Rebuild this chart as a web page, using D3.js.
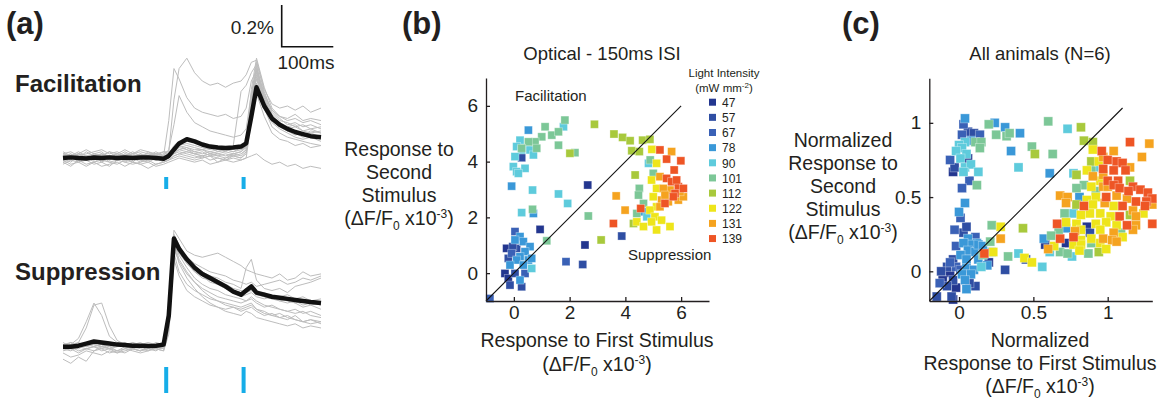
<!DOCTYPE html>
<html>
<head>
<meta charset="utf-8">
<script src="https://cdn.jsdelivr.net/npm/d3@7"></script>
<style>
  body { margin: 0; background: #fff; }
  text { font-family: "Liberation Sans", Arial, sans-serif; fill: #231f20; }
</style>
</head>
<body>
<script>
// ---- data ----
const intensities = [47, 57, 67, 78, 90, 101, 112, 122, 131, 139];
const intensityColors = ['#23368f', '#2f4ea3', '#3a61b6', '#3a98d8', '#5ecbdc',
                         '#7cc797', '#a8c93c', '#eee51a', '#f5a31f', '#ee5525'];

// time of each sample (ms), stimuli at 200 and 350 ms
const traceTimes = [0,15,30,45,60,75,90,105,120,135,150,165,180,195,205,215,225,240,
                    255,270,285,300,315,330,345,355,365,375,390,405,420,435,450,465,480,500];
const stimTimes = [200, 350];

// dF/F (%) facilitation example
const facMean = [0.00,0.003,0.00,-0.002,0.002,0.00,0.003,0.00,0.002,0.00,0.002,0.003,0.00,-0.004,
  0.01,0.04,0.07,0.09, 0.08,0.065,0.055,0.05,0.048,0.05,0.055, 0.07,0.2,0.34,
  0.25,0.19,0.16,0.14,0.125,0.115,0.105,0.10];
const facTraces = [
  [0.01,-0.01,0.02,0.00,0.01,-0.02,0.01,0.02,0.00,-0.01,0.02,0.00,0.01,0.00, 0.03,0.28,0.43,0.48, 0.41,0.37,0.35,0.36,0.34,0.36,0.37, 0.40,0.46,0.47, 0.33,0.26,0.24,0.25,0.23,0.25,0.22,0.24],
  [-0.02,0.00,-0.01,0.01,-0.02,0.00,-0.01,0.01,-0.02,0.00,-0.01,-0.02,0.00,0.01, 0.18,0.43,0.38,0.29, 0.24,0.22,0.21,0.20,0.21,0.19,0.20, 0.24,0.37,0.42, 0.30,0.23,0.20,0.19,0.21,0.18,0.19,0.18],
  [0.02,0.01,0.03,0.01,0.02,0.03,0.00,0.02,0.01,0.03,0.01,0.02,0.02,0.01, 0.04,0.16,0.30,0.22, 0.17,0.15,0.13,0.12,0.11,0.10,0.11, 0.14,0.31,0.41, 0.28,0.20,0.17,0.15,0.16,0.13,0.14,0.12],
  [0.00,0.02,-0.01,0.01,0.00,0.02,-0.01,0.00,0.02,0.01,-0.01,0.01,0.02,0.00, 0.02,0.05,0.06,0.05, 0.04,0.04,0.03,0.04,0.03,0.06,0.32, 0.35,0.41,0.45, 0.26,0.18,0.15,0.13,0.12,0.10,0.11,0.09],
  [-0.02,-0.04,-0.01,-0.03,-0.02,-0.04,-0.03,-0.02,-0.04,-0.02,-0.03,-0.05,-0.03,-0.02, -0.01,0.01,0.02,0.01, 0.00,0.01,-0.01,0.00,-0.01,0.00,-0.01, 0.00,0.01,0.02, -0.01,-0.03,-0.02,-0.04,-0.03,-0.05,-0.04,-0.05],
  [0.03,0.01,0.02,0.04,0.02,0.01,0.03,0.02,0.04,0.02,0.03,0.02,0.01,0.03, 0.02,0.03,0.04,0.05, 0.03,0.04,0.02,0.03,0.04,0.03,0.05, 0.07,0.30,0.46, 0.32,0.22,0.18,0.17,0.15,0.16,0.14,0.15],
  [-0.01,-0.03,-0.02,-0.01,-0.03,-0.02,-0.04,-0.01,-0.02,-0.03,-0.02,-0.01,-0.03,-0.02, -0.01,0.00,0.01,0.00, -0.01,0.00,0.01,-0.02,0.00,0.01,0.00, 0.02,0.22,0.36, 0.24,0.15,0.12,0.10,0.09,0.08,0.07,0.06],
  [0.01,0.00,0.02,0.01,-0.01,0.02,0.01,0.00,0.01,0.02,0.00,0.01,0.03,0.01, 0.02,0.06,0.08,0.07, 0.06,0.05,0.04,0.05,0.04,0.03,0.04, 0.05,0.28,0.42, 0.29,0.20,0.16,0.13,0.12,0.11,0.12,0.10],
  [0.00,-0.02,0.01,-0.01,0.01,-0.02,0.00,0.01,-0.01,0.00,-0.02,0.00,-0.01,0.00, 0.00,0.02,0.03,0.02, 0.01,0.00,0.01,0.00,-0.01,0.01,0.00, 0.03,0.25,0.40, 0.25,0.17,0.14,0.12,0.10,0.09,0.10,0.08],
  [0.02,0.03,0.01,0.02,0.03,0.04,0.02,0.03,0.01,0.02,0.04,0.03,0.02,0.03, 0.03,0.05,0.06,0.04, 0.03,0.02,0.03,0.02,0.01,0.02,0.03, 0.06,0.33,0.48, 0.34,0.24,0.20,0.18,0.19,0.17,0.18,0.16],
  [-0.03,-0.01,-0.02,-0.04,-0.02,-0.01,-0.02,-0.03,-0.01,-0.02,-0.03,-0.02,-0.04,-0.03, -0.02,-0.01,0.00,-0.01, -0.02,-0.01,-0.03,-0.02,-0.01,-0.02,-0.01, 0.00,0.18,0.31, 0.20,0.12,0.09,0.08,0.06,0.07,0.05,0.06],
  [0.01,0.02,0.00,0.03,0.01,0.02,0.00,0.01,0.03,0.01,0.02,0.00,0.02,0.01, 0.01,0.03,0.05,0.04, 0.02,0.03,0.01,0.02,0.03,0.02,0.03, 0.05,0.27,0.44, 0.30,0.21,0.17,0.14,0.15,0.13,0.12,0.13],
  [-0.01,0.01,-0.02,0.00,-0.01,0.01,-0.02,-0.01,0.00,-0.02,0.01,-0.01,0.00,-0.02, -0.01,0.01,0.02,0.03, 0.02,0.01,0.02,0.01,0.00,0.02,0.01, 0.04,0.24,0.38, 0.26,0.19,0.15,0.13,0.11,0.12,0.10,0.11],
  [0.02,0.00,0.01,-0.01,0.02,0.01,0.03,0.00,0.02,0.01,0.00,0.03,0.01,0.02, 0.02,0.04,0.07,0.06, 0.05,0.04,0.05,0.03,0.04,0.05,0.04, 0.06,0.29,0.43, 0.31,0.23,0.19,0.16,0.17,0.15,0.16,0.14],
  [0.00,0.01,0.02,0.00,0.01,0.02,0.00,-0.01,0.01,0.00,0.02,0.01,-0.01,0.00, 0.01,0.02,0.04,0.03, 0.02,0.01,0.02,0.01,0.02,0.01,0.02, 0.04,0.26,0.39, 0.28,0.18,0.15,0.14,0.12,0.11,0.13,0.12]
];

// dF/F (%) suppression example
const supMean = [0.00,0.00,0.005,0.015,0.025,0.02,0.015,0.01,0.008,0.005,0.005,0.003,0.005,0.01,
  0.15,0.52,0.47,0.42, 0.38,0.35,0.33,0.31,0.29,0.265,0.25, 0.27,0.29,0.26,
  0.25,0.24,0.235,0.23,0.225,0.22,0.215,0.21];
const supTraces = [
  [0.00,0.01,0.04,0.12,0.21,0.15,0.05,0.02,0.01,0.00,0.01,0.00,0.01,0.02, 0.12,0.50,0.44,0.38, 0.33,0.30,0.28,0.27,0.25,0.24,0.23, 0.22,0.24,0.22, 0.20,0.19,0.18,0.17,0.18,0.16,0.17,0.15],
  [-0.01,0.00,0.02,0.09,0.20,0.21,0.10,0.03,0.01,0.02,0.00,0.01,0.00,0.01, 0.10,0.48,0.45,0.40, 0.36,0.34,0.31,0.30,0.28,0.26,0.24, 0.25,0.26,0.24, 0.23,0.24,0.22,0.21,0.22,0.20,0.21,0.20],
  [-0.06,-0.08,-0.05,-0.07,-0.02,-0.01,-0.03,-0.02,-0.03,-0.01,-0.02,-0.01,-0.02,0.00, 0.10,0.49,0.40,0.33, 0.28,0.24,0.21,0.19,0.17,0.16,0.15, 0.17,0.16,0.14, 0.13,0.12,0.11,0.10,0.11,0.09,0.10,0.09],
  [0.01,0.02,0.00,0.01,0.03,0.02,0.01,0.02,0.00,0.01,0.02,0.00,0.01,0.02, 0.18,0.56,0.52,0.46, 0.44,0.43,0.44,0.45,0.43,0.41,0.39, 0.37,0.36,0.35, 0.34,0.33,0.35,0.32,0.33,0.36,0.34,0.35],
  [0.02,0.00,0.01,0.02,0.01,0.00,0.02,0.01,0.00,0.02,0.01,0.00,0.01,0.00, 0.14,0.54,0.49,0.42, 0.39,0.36,0.34,0.33,0.31,0.30,0.28, 0.38,0.42,0.32, 0.28,0.27,0.28,0.26,0.29,0.30,0.31,0.33],
  [-0.02,-0.01,-0.03,-0.01,0.00,-0.02,-0.01,-0.03,-0.02,-0.01,-0.02,0.00,-0.01,-0.02, 0.08,0.45,0.36,0.30, 0.27,0.25,0.23,0.22,0.21,0.20,0.19, 0.20,0.21,0.18, 0.17,0.15,0.16,0.14,0.13,0.12,0.11,0.12],
  [0.01,0.00,-0.01,0.01,0.00,0.01,-0.01,0.00,0.01,-0.01,0.00,0.01,0.00,0.01, 0.12,0.51,0.46,0.40, 0.36,0.33,0.32,0.30,0.29,0.27,0.26, 0.27,0.28,0.26, 0.24,0.23,0.24,0.25,0.23,0.24,0.22,0.23],
  [-0.03,-0.05,-0.04,-0.02,-0.03,-0.04,-0.02,-0.03,-0.01,-0.02,-0.03,-0.02,-0.01,-0.02, 0.06,0.42,0.34,0.27, 0.24,0.22,0.20,0.19,0.18,0.19,0.17, 0.18,0.19,0.17, 0.15,0.16,0.14,0.13,0.15,0.12,0.13,0.11],
  [0.00,0.01,0.02,0.00,0.01,0.00,0.01,0.02,0.01,0.00,0.01,0.02,0.01,0.00, 0.11,0.50,0.47,0.41, 0.37,0.35,0.34,0.32,0.30,0.28,0.27, 0.26,0.27,0.25, 0.26,0.24,0.23,0.22,0.21,0.19,0.20,0.18],
  [-0.01,0.00,-0.02,-0.01,0.00,-0.01,0.00,-0.02,-0.01,0.00,-0.01,-0.02,0.00,-0.01, 0.09,0.47,0.41,0.35, 0.31,0.28,0.26,0.24,0.23,0.22,0.21, 0.22,0.23,0.21, 0.19,0.20,0.18,0.17,0.16,0.17,0.15,0.14],
  [0.01,-0.01,0.00,0.02,0.01,0.00,-0.01,0.01,0.00,-0.01,0.01,0.00,-0.01,0.00, 0.13,0.53,0.48,0.43, 0.40,0.38,0.36,0.35,0.34,0.32,0.31, 0.30,0.31,0.29, 0.30,0.31,0.32,0.30,0.31,0.33,0.32,0.34],
  [-0.01,-0.02,0.00,-0.01,-0.02,0.00,-0.01,-0.02,0.00,-0.01,-0.02,-0.01,0.00,-0.01, 0.10,0.50,0.42,0.36, 0.31,0.27,0.24,0.22,0.20,0.19,0.18, 0.19,0.20,0.18, 0.16,0.15,0.14,0.15,0.13,0.12,0.13,0.12],
  [0.00,0.02,0.01,0.00,0.02,0.01,0.00,0.01,0.02,0.00,0.01,0.00,0.02,0.01, 0.14,0.52,0.47,0.41, 0.37,0.34,0.32,0.30,0.28,0.27,0.26, 0.28,0.27,0.25, 0.24,0.23,0.22,0.23,0.21,0.22,0.20,0.21]
];

// (b) [first, second, light intensity]
const opticalPoints = [
  [0.52,5.13,78],[1.83,5.49,101],[1.78,5.25,90],[1.12,5.25,101],[1.36,4.95,101],[1.60,5.07,101],
  [1.00,4.89,101],[0.76,4.71,101],[0.52,4.71,101],[0.22,4.77,90],[0.10,4.54,90],[0.28,4.42,90],
  [0.04,4.18,90],[0.58,4.42,90],[0.82,4.48,101],[0.28,4.14,57],[0.70,4.24,90],[-0.02,3.82,90],
  [0.10,3.64,90],[0.40,3.76,90],[0.16,3.58,90],[1.60,4.59,101],[2.01,4.30,112],[2.19,4.32,101],
  [0.28,4.48,101],[-0.08,3.12,78],[0.67,2.98,90],[1.60,2.84,90],[1.93,2.50,90],[0.67,2.29,101],
  [0.28,2.17,90],[0.70,2.14,78],[0.94,1.57,47],[2.65,3.16,47],[2.67,2.05,101],[1.18,1.16,101],
  [2.55,1.01,47],[3.13,1.19,112],[3.87,1.33,57],[1.87,0.41,67],[2.47,0.31,57],[2.89,5.34,112],
  [3.59,4.99,112],[3.90,4.87,112],[4.17,4.75,112],[4.62,4.77,112],[4.88,4.80,112],[4.23,4.39,112],
  [4.50,4.36,112],[4.35,3.52,112],[4.50,3.04,101],[4.47,2.80,101],[3.67,2.77,131],[3.99,2.26,131],
  [3.57,1.78,139],[4.41,2.14,101],[4.65,2.50,101],[4.55,2.32,139],[4.41,1.84,122],[4.29,1.78,112],
  [4.95,4.44,122],[5.24,4.42,139],[5.66,4.36,131],[5.48,4.09,139],[5.99,4.03,139],[4.89,4.06,101],
  [4.83,3.94,90],[5.12,3.94,122],[5.75,3.70,139],[5.00,3.58,101],[4.94,3.34,122],[5.24,3.46,131],
  [5.48,3.40,139],[5.66,3.28,139],[5.90,3.10,139],[6.08,3.04,139],[5.60,2.98,131],[5.78,2.86,139],
  [5.36,3.04,131],[5.12,3.04,122],[5.00,2.74,122],[5.30,2.62,131],[5.54,2.56,131],[5.90,2.62,131],
  [6.08,2.74,131],[5.42,2.50,139],[5.12,2.38,122],[4.88,2.26,122],[5.06,2.02,122],[5.30,1.90,122],
  [5.60,1.67,122],[5.12,1.55,122],[4.77,2.02,90],[4.65,2.20,78],[5.84,3.34,139],[5.96,2.92,131],
  [5.72,2.74,139],[5.42,2.80,131],[5.24,2.38,131],[4.65,1.67,122],[4.94,1.84,122],
  [0.04,1.49,67],[0.22,1.31,78],[0.04,1.19,78],[0.34,1.13,78],[0.58,0.95,78],[-0.26,0.89,47],
  [0.10,0.89,57],[0.40,0.77,78],[-0.08,0.71,67],[0.22,0.59,78],[-0.20,0.53,57],[0.10,0.47,78],
  [0.52,0.47,78],[-0.14,0.29,78],[0.34,0.29,78],[0.64,0.17,90],[-0.32,-0.01,47],[0.04,-0.01,57],
  [0.40,-0.01,67],[-0.20,-0.19,47],[0.22,-0.25,78],[-0.14,-0.43,57],[0.28,-0.49,57],[-0.86,-0.91,67],
  [0.64,0.53,78],[-0.04,0.95,57]
];

// (c) normalized [first, second, light intensity]
const allAnimalPoints = [
  [0.04,1.03,78],[0.03,0.99,67],[0.06,0.94,57],[0.02,0.92,67],[0.10,0.93,57],[0.14,0.92,67],
  [0.08,0.88,78],[0.04,0.87,90],[0.00,0.85,90],[0.02,0.83,90],[0.11,0.87,101],[0.15,0.87,101],
  [0.14,0.83,101],[0.05,0.79,90],[-0.02,0.81,90],[-0.06,0.75,67],[0.01,0.76,90],[0.06,0.76,47],
  [-0.03,0.70,57],[0.04,0.70,90],[0.08,0.72,90],[0.13,0.67,90],[0.03,0.67,90],[-0.04,0.67,47],
  [0.07,0.61,67],[0.12,0.58,101],[0.02,0.56,67],[0.04,0.46,78],[0.00,0.40,78],[0.01,0.36,67],
  [-0.03,0.28,67],[0.03,0.26,57],[0.06,0.22,78],[0.12,0.19,78],[0.08,0.18,78],[0.03,0.19,78],
  [0.20,0.99,101],[0.24,1.00,78],[0.31,0.97,78],[0.25,0.92,101],[0.32,0.91,101],[0.34,0.93,101],
  [0.41,0.93,78],[0.35,0.81,78],[0.40,0.70,90],[0.49,0.84,101],[0.51,0.79,112],[0.63,0.79,101],
  [0.60,1.01,101],[0.73,0.96,90],[0.82,0.97,112],[0.84,0.88,112],[0.90,0.87,112],[0.61,0.66,78],
  [-0.02,0.17,67],[0.06,0.14,78],[0.11,0.13,78],[0.01,0.11,78],[-0.04,0.08,57],[0.05,0.08,78],
  [0.13,0.08,78],[-0.08,0.03,57],[-0.02,0.03,67],[0.05,0.02,78],[0.10,0.01,78],[-0.12,0.00,57],
  [-0.06,-0.01,47],[0.02,-0.02,78],[0.08,-0.02,78],[0.15,0.03,90],[-0.11,-0.06,47],[-0.04,-0.06,57],
  [0.04,-0.06,78],[0.11,-0.10,57],[-0.08,-0.10,57],[-0.02,-0.11,47],[0.05,-0.12,78],[-0.15,-0.17,57],
  [-0.05,-0.17,57],[-0.04,-0.19,47],[0.19,0.04,78],[0.22,0.13,78],[0.16,0.11,101],[0.17,0.12,139],
  [0.21,0.20,101],[0.23,0.13,122],[0.28,0.22,131],[0.22,0.31,101],[0.28,0.30,122],[0.20,0.06,47],
  [0.33,0.10,101],[0.40,0.12,90],[0.44,0.09,122],[0.45,0.08,57],[0.49,0.06,122],[0.56,0.03,90],
  [0.31,0.01,57],[0.43,0.29,112],[-0.13,-0.08,67],[0.01,0.01,67],[0.07,-0.08,57],[-0.06,0.06,67],
  [0.13,0.18,78],[0.16,0.17,78],[0.11,0.23,67],[0.05,0.30,57],
  [0.90,0.82,122],[0.96,0.81,139],[1.04,0.81,131],[1.15,0.87,139],[1.28,0.86,131],[1.23,0.77,131],
  [0.94,0.74,122],[1.00,0.75,139],[1.06,0.74,139],[1.10,0.73,139],[1.15,0.70,131],[0.97,0.69,139],
  [1.04,0.68,139],[1.12,0.68,139],[0.86,0.68,122],[0.79,0.65,112],[0.90,0.64,131],[0.95,0.61,122],
  [1.00,0.61,139],[1.07,0.61,139],[1.15,0.61,112],[0.84,0.58,101],[0.89,0.57,122],[0.97,0.57,131],
  [1.04,0.58,139],[1.17,0.57,139],[1.22,0.55,139],[1.27,0.53,139],[1.30,0.49,139],[1.26,0.47,139],
  [1.25,0.44,139],[1.30,0.45,131],[0.68,0.51,131],[0.73,0.50,131],[0.81,0.50,78],[0.86,0.48,122],
  [0.92,0.50,122],[0.99,0.50,139],[1.06,0.51,131],[1.13,0.49,131],[1.19,0.47,139],[0.72,0.46,131],
  [0.79,0.45,112],[0.84,0.44,139],[0.90,0.45,122],[0.98,0.46,131],[1.04,0.44,122],[1.10,0.44,139],
  [1.17,0.41,131],[1.24,0.39,122],[0.71,0.39,101],[0.77,0.39,90],[0.82,0.38,122],[0.88,0.39,122],
  [0.95,0.39,122],[1.02,0.37,122],[1.08,0.37,139],[1.15,0.38,112],[1.19,0.37,131],[0.66,0.32,139],
  [0.72,0.33,122],[0.79,0.32,122],[0.86,0.30,47],[0.92,0.32,122],[0.99,0.33,122],[1.06,0.31,122],
  [1.13,0.31,139],[1.19,0.31,131],[1.30,0.32,139],[0.67,0.28,101],[0.72,0.29,78],[0.78,0.27,131],
  [0.82,0.28,122],[0.88,0.26,57],[0.95,0.28,122],[1.04,0.26,131],[1.09,0.26,101],[0.57,0.22,78],
  [0.62,0.24,101],[0.68,0.22,139],[0.77,0.23,139],[0.82,0.21,122],[0.89,0.22,122],[0.97,0.22,131],
  [1.03,0.21,131],[0.58,0.18,47],[0.60,0.15,131],[0.64,0.17,122],[0.72,0.19,47],[0.77,0.18,122],
  [0.82,0.18,122],[0.89,0.19,101],[0.95,0.19,122],[0.61,0.13,90],[0.68,0.13,101],[0.73,0.12,101],
  [0.76,0.10,90],[0.81,0.14,122],[0.87,0.12,101],[0.94,0.13,112],[0.99,0.15,122],[1.06,0.20,131],
  [1.10,0.23,122],[1.17,0.28,131],[1.00,0.57,131],[0.92,0.54,101],[0.97,0.65,131],[1.08,0.56,139],
  [1.14,0.54,139],[0.97,0.77,131],[0.91,0.70,90],[0.79,0.56,101],[0.89,0.74,112],[0.89,0.68,101],
  [0.77,0.66,90]
];

const ticksB = [0, 2, 4, 6];
const ticksC = [0, 0.5, 1];

// ---- drawing ----
const svg = d3.select('body').append('svg')
  .attr('width', 1170).attr('height', 402);

const color = d3.scaleOrdinal().domain(intensities).range(intensityColors);

function panelLabel(x, txt) {
  svg.append('text').attr('x', x).attr('y', 34)
    .style('font-size', '31px').style('font-weight', 'bold').text(txt);
}

// multi-line label, last line is the (dF/F0 x10-3) unit
function unitLabel(cx, baselines, lines) {
  const t = svg.append('text').attr('text-anchor', 'middle').style('font-size', '19.5px');
  lines.forEach((l, i) => {
    t.append('tspan').attr('x', cx).attr('y', baselines[i]).text(l);
  });
  const last = baselines[baselines.length - 1];
  t.append('tspan').attr('x', cx).attr('y', last).text('(\u0394F/F');
  t.append('tspan').attr('dy', 5).style('font-size', '12px').text('0');
  t.append('tspan').attr('dy', -5).text(' x10');
  t.append('tspan').attr('dy', -7).style('font-size', '12px').text('-3');
  t.append('tspan').attr('dy', 7).text(')');
}

// (a) traces
panelLabel(6, '(a)');
const tx = d3.scaleLinear().domain([0, 500]).range([63, 321]);
const yFac = d3.scaleLinear().domain([0, 0.5]).range([158, 54]);
const ySup = d3.scaleLinear().domain([0, 0.5]).range([346.7, 242.7]);

function drawTraces(traces, mean, y) {
  const line = d3.line().x((d, i) => tx(traceTimes[i])).y(d => y(d));
  const g = svg.append('g');
  g.selectAll('path.gray').data(traces).enter().append('path')
    .attr('class', 'gray').attr('d', line)
    .attr('fill', 'none').attr('stroke', '#bdbdbd').attr('stroke-width', 1);
  g.append('path').attr('d', line(mean))
    .attr('fill', 'none').attr('stroke', '#111').attr('stroke-width', 4.5)
    .attr('stroke-linejoin', 'round');
}
drawTraces(facTraces, facMean, yFac);
drawTraces(supTraces, supMean, ySup);

svg.selectAll('rect.stimTop').data(stimTimes).enter().append('rect')
  .attr('x', d => tx(d) - 2).attr('y', 177).attr('width', 4).attr('height', 12)
  .attr('fill', '#16ade8');
svg.selectAll('rect.stimBot').data(stimTimes).enter().append('rect')
  .attr('x', d => tx(d) - 2).attr('y', 367).attr('width', 4).attr('height', 26)
  .attr('fill', '#16ade8');

svg.append('text').attr('x', 15).attr('y', 92)
  .style('font-size', '24px').style('font-weight', 'bold').text('Facilitation');
svg.append('text').attr('x', 15).attr('y', 280)
  .style('font-size', '24px').style('font-weight', 'bold').text('Suppression');

// scale bar
const sbX = 281.7, sbY = 46.7;
const sbW = tx(100) - tx(0), sbH = yFac(0) - yFac(0.2);
svg.append('path')
  .attr('d', `M${sbX},${sbY - sbH}V${sbY}H${sbX + sbW}`)
  .attr('fill', 'none').attr('stroke', '#111').attr('stroke-width', 1.6);
svg.append('text').attr('x', 274).attr('y', 33.5).attr('text-anchor', 'end')
  .style('font-size', '19px').text('0.2%');
svg.append('text').attr('x', 306).attr('y', 68.5).attr('text-anchor', 'middle')
  .style('font-size', '19px').text('100ms');

// scatter panel helper
function scatterPanel(points, xs, ys, ticks, fmt, size, diag) {
  const g = svg.append('g');
  const sorted = points.slice().sort((a, b) => a[2] - b[2]);
  g.selectAll('rect').data(sorted).enter().append('rect')
    .attr('x', d => xs(d[0]) - size / 2).attr('y', d => ys(d[1]) - size / 2)
    .attr('width', size).attr('height', size)
    .attr('fill', d => color(d[2]))
    .attr('stroke', '#fff').attr('stroke-opacity', 0.4).attr('stroke-width', 0.8);

  g.append('line')
    .attr('x1', xs(diag[0])).attr('y1', ys(diag[0]))
    .attr('x2', xs(diag[1])).attr('y2', ys(diag[1]))
    .attr('stroke', '#111').attr('stroke-width', 1.1);

  const xAxis = g.append('g').attr('transform', `translate(0,${ys.range()[0]})`)
    .call(d3.axisBottom(xs).tickValues(ticks).tickFormat(fmt)
      .tickSizeInner(-4).tickSizeOuter(0).tickPadding(5));
  const yAxis = g.append('g').attr('transform', `translate(${xs.range()[0]},0)`)
    .call(d3.axisLeft(ys).tickValues(ticks).tickFormat(fmt)
      .tickSizeInner(-4).tickSizeOuter(0).tickPadding(8));
  [xAxis, yAxis].forEach(a => {
    a.attr('font-family', null).attr('font-size', null);
    a.selectAll('text').style('font-size', '19px').attr('fill', '#231f20');
    a.selectAll('path, line').attr('stroke', '#231f20').attr('stroke-width', 1.3);
  });
}

// (b)
panelLabel(402, '(b)');
svg.append('text').attr('x', 602).attr('y', 60).attr('text-anchor', 'middle')
  .style('font-size', '18.5px').text('Optical - 150ms ISI');
const xB = d3.scaleLinear().domain([-1, 7]).range([486, 709]);
const yB = d3.scaleLinear().domain([-1, 7]).range([301, 78]);
scatterPanel(opticalPoints, xB, yB, ticksB, d3.format('d'), 8, [-1, 6]);
svg.append('text').attr('x', 515).attr('y', 101).style('font-size', '15px').text('Facilitation');
svg.append('text').attr('x', 628).attr('y', 260).style('font-size', '15px').text('Suppression');
unitLabel(399, [156, 179, 202, 225], ['Response to', 'Second', 'Stimulus']);
unitLabel(597, [347, 371], ['Response to First Stimulus']);

// legend
const legTitle = svg.append('text').attr('text-anchor', 'middle').style('font-size', '11.5px');
legTitle.append('tspan').attr('x', 724).attr('y', 77).text('Light Intensity');
legTitle.append('tspan').attr('x', 724).attr('y', 92).text('(mW mm');
legTitle.append('tspan').attr('dy', -4).style('font-size', '8px').text('-2');
legTitle.append('tspan').attr('dy', 4).text(')');
const leg = svg.append('g');
const legRows = leg.selectAll('g').data(intensities).enter().append('g')
  .attr('transform', (d, i) => `translate(709,${102.7 + i * 15.15})`);
legRows.append('rect').attr('x', 0).attr('y', -4).attr('width', 7).attr('height', 7)
  .attr('fill', d => color(d));
legRows.append('text').attr('x', 13).attr('y', 4.3)
  .style('font-size', '12px').text(d => d);

// (c)
panelLabel(842, '(c)');
svg.append('text').attr('x', 1040).attr('y', 60).attr('text-anchor', 'middle')
  .style('font-size', '18.5px').text('All animals (N=6)');
const xC = d3.scaleLinear().domain([-0.2, 1.3]).range([929.3, 1152.3]);
const yC = d3.scaleLinear().domain([-0.2, 1.3]).range([301, 78.3]);
scatterPanel(allAnimalPoints, xC, yC, ticksC, d => (d === 0.5 ? '0.5' : d3.format('d')(d)), 9, [-0.2, 1.1]);
unitLabel(843, [147, 170, 193, 216, 239], ['Normalized', 'Response to', 'Second', 'Stimulus']);
unitLabel(1040, [347, 370, 393], ['Normalized', 'Response to First Stimulus']);
</script>
</body>
</html>
